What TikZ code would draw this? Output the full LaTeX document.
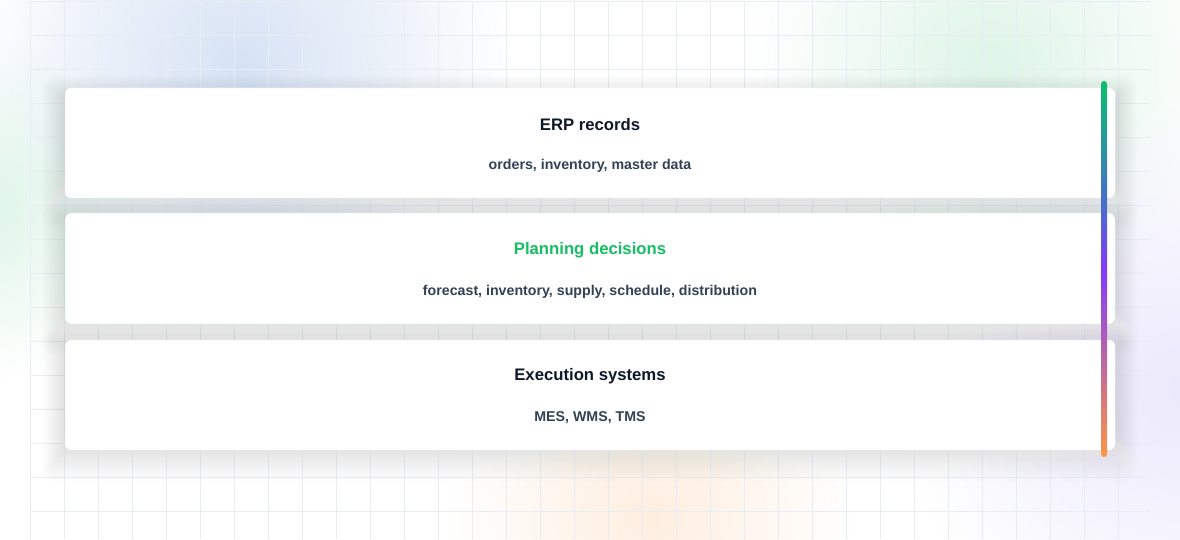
\documentclass[tikz,border=0pt]{standalone}
\usepackage{fontspec}
\setmainfont{Liberation Sans}
\usetikzlibrary{fadings,positioning}
\definecolor{ink}{RGB}{15,23,42}
\definecolor{slate}{RGB}{51,65,85}
\definecolor{plan}{RGB}{22,190,100}
\definecolor{gridln}{RGB}{232,236,243}
\definecolor{shade}{RGB}{90,100,130}
\definecolor{blobB}{RGB}{214,226,244}
\definecolor{blobG}{RGB}{222,245,232}
\definecolor{blobO}{RGB}{254,238,224}
\definecolor{blobV}{RGB}{236,233,252}
\definecolor{barG}{RGB}{12,190,110}
\definecolor{barB}{RGB}{70,112,200}
\definecolor{barP}{RGB}{128,60,250}
\definecolor{barO}{RGB}{251,150,70}
\tikzfading[name=blob,inner color=transparent!0,outer color=transparent!100]
\pgfdeclareverticalshading{barshade}{100bp}{color(0bp)=(barO); color(25bp)=(barO); color(50bp)=(barP); color(59bp)=(barB); color(75bp)=(barG); color(100bp)=(barG)}
\pgfdeclarelayer{bg}
\pgfdeclarelayer{drop}
\pgfsetlayers{bg,drop,main}
\begin{document}
\begin{tikzpicture}[x=1pt,y=1pt,
  card/.style={draw=gray!10,fill=white,rounded corners=6pt,minimum width=1050pt,minimum height=110pt},
  ttl/.style={font=\bfseries\fontsize{16.7}{18}\selectfont,text=ink},
  sub/.style={font=\bfseries\fontsize{14.2}{16}\selectfont,text=slate}]
\useasboundingbox (0,0) rectangle (1180,539);
\begin{pgfonlayer}{bg}
\fill[white] (0,0) rectangle (1180,539);
% soft background blobs
\fill[blobB,path fading=blob] (240,470) circle (270);
\fill[blobG,path fading=blob] (-20,330) circle (170);
\fill[blobG,path fading=blob] (990,470) circle (240);
\fill[blobO,path fading=blob] (650,20) circle (200);
\fill[blobV,path fading=blob] (1180,150) circle (280);
\foreach \x in {30,64,...,1150} \draw[gridln,line width=0.4pt] (\x,0) -- (\x,538);
\foreach \y in {538,504,...,0} \draw[gridln,line width=0.4pt] (30,\y) -- (1150,\y);
\end{pgfonlayer}
\node[card] (erp) at (590,396) {};
\node[card,draw=plan!28,minimum height=111pt] (plan) at (590,270.5) {};
\node[card] (exec) at (590,144) {};
% drop shadows
\begin{pgfonlayer}{drop}
\foreach \c in {erp,plan,exec}
  \foreach \k [evaluate=\k as \rr using 6+1.6*\k] in {0,...,14}
    \fill[shade,fill opacity=0.004,rounded corners=\rr pt] ([shift={(-1.6*\k,-1.6*\k-10)}]\c.south west) rectangle ([shift={(1.6*\k,1.6*\k-10)}]\c.north east);
\end{pgfonlayer}
\node[ttl] (erpT) at (590,414) {ERP records};
\node[sub] (erpS) at (590,373) {orders, inventory, master data};
\node[ttl,text=plan] (planT) at (590,289) {Planning decisions};
\node[sub] (planS) at (590,247) {forecast, inventory, supply, schedule, distribution};
\node[ttl] (execT) at (590,163) {Execution systems};
\node[sub] (execS) at (590,121) {MES, WMS, TMS};
\coordinate (top) at (1101,458); \coordinate (bot) at (1107,82);
\shade[shading=barshade,rounded corners=3pt] (bot) rectangle (top);
\end{tikzpicture}
\end{document}
